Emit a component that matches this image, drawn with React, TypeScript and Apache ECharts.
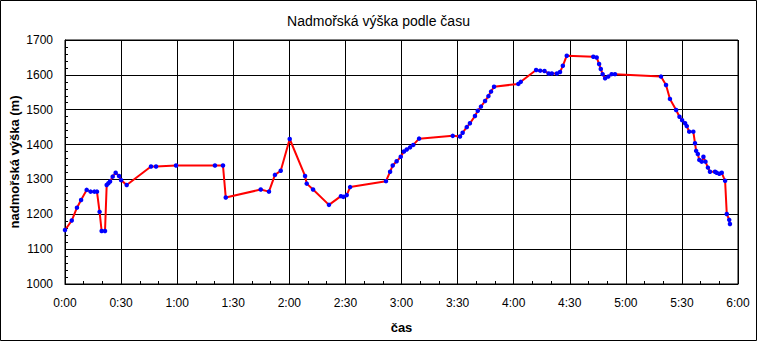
import React, { useEffect, useRef } from "react";
import * as echarts from "echarts";

// time in minutes since start
const times: number[] = [
  0, 3.6, 6.4, 8.6, 11.6, 13.7, 15.7, 17.1, 18.5, 19.6, 21.4, 22.3, 23.2, 24.1, 25.5, 27.1, 28.9, 30, 33,
  46, 48.7, 59.4, 80.2, 84.5, 86, 104.7, 109.1, 112.3, 115.4, 120.2, 128.4, 129.3, 132.7, 141.2,
  147.6, 148.9, 150.7, 152.5, 171.7, 173.9, 175.3, 177.4, 179.6, 181.3, 182.8, 184.6, 186.3, 189.4,
  207.4, 211.3, 212.7, 214.9, 216.6, 219.3, 220.8, 222.5, 224.7, 226.5, 227.9, 229.5, 242.5, 243.8,
  252, 254.2, 256.5, 258.7, 260.4, 263.1, 264.8, 266.3, 268.4, 282.6, 284.4, 285.7, 286.6, 287.6,
  288.9, 290.6, 292.4, 294.2, 318.8, 321.5, 323.6, 326.9, 328.7, 330.1, 331.7, 332.6, 333.9, 336.1,
  337, 337.6, 338.5, 339.3, 340.6, 341.5, 342.6, 343.9, 345, 347.7, 348.6, 350, 351.3, 353.1, 354,
  355.3, 355.7,
];

// altitude in metres
const altitudes: number[] = [
  1155, 1182, 1219, 1241, 1270, 1265, 1265, 1265, 1207, 1152, 1152, 1284, 1289, 1294, 1308, 1319, 1310, 1298, 1284,
  1337, 1337, 1340, 1340, 1340, 1248, 1271, 1265, 1313, 1325, 1416, 1310, 1288, 1271, 1227,
  1252, 1250, 1255, 1278, 1295, 1322, 1340, 1352, 1365, 1380, 1386, 1392, 1399, 1417,
  1425, 1423, 1434, 1450, 1461, 1482, 1497, 1509, 1525, 1539, 1552, 1566, 1574, 1580,
  1614, 1612, 1611, 1604, 1604, 1604, 1608, 1626, 1655, 1652, 1650, 1631, 1617, 1602,
  1590, 1595, 1602, 1602, 1595, 1571, 1531, 1499, 1480, 1470, 1461, 1453, 1437, 1437,
  1404, 1382, 1373, 1356, 1351, 1365, 1351, 1334, 1322, 1322, 1319, 1316, 1319, 1296, 1201,
  1184, 1172,
];

const titleText = "Nadmořská výška podle času";
const xAxisName = "čas";
const yAxisName = "nadmořská výška (m)";

const FONT = "Liberation Sans, Arial, sans-serif";

export default function App() {
  const ref = useRef<HTMLDivElement>(null);

  useEffect(() => {
    if (!ref.current) return;
    const chart = echarts.init(ref.current, undefined, { renderer: "svg" });
    const data = times.map((t, i) => [t, altitudes[i]]);
    const fmt = (v: number) => {
      const h = Math.floor(v / 60);
      const m = Math.round(v % 60);
      return `${h}:${String(m).padStart(2, "0")}`;
    };
    chart.setOption({
      animation: false,
      backgroundColor: "#ffffff",
      title: {
        text: titleText,
        left: "center",
        top: 9,
        textStyle: { fontFamily: FONT, fontSize: 14, fontWeight: "normal", color: "#000" },
      },
      graphic: [
        {
          type: "rect",
          shape: { x: 0.5, y: 0.5, width: 756, height: 340 },
          style: { fill: "none", stroke: "#000", lineWidth: 1 },
          silent: true,
        },
      ],
      grid: {
        left: 65,
        right: 19,
        top: 40,
        bottom: 57,
        containLabel: false,
        outerBoundsMode: "none",
        show: true,
        borderColor: "#000",
        borderWidth: 1,
      },
      xAxis: {
        type: "value",
        min: 0,
        max: 360,
        interval: 30,
        name: xAxisName,
        nameLocation: "middle",
        nameGap: 37,
        nameMoveOverlap: false,
        nameTextStyle: { fontFamily: FONT, fontSize: 13, fontWeight: "bold", color: "#000" },
        axisLine: { show: true, lineStyle: { color: "#000", width: 1 } },
        axisTick: { show: true, inside: true, length: 0 },
        minorTick: { show: true, splitNumber: 3, length: 3, lineStyle: { color: "#000", width: 1 } },
        splitLine: { show: true, lineStyle: { color: "#000", width: 1 } },
        axisLabel: { formatter: fmt, margin: 13, fontFamily: FONT, fontSize: 12, color: "#000" },
      },
      yAxis: {
        type: "value",
        min: 1000,
        max: 1700,
        interval: 100,
        name: yAxisName,
        nameLocation: "middle",
        nameGap: 44,
        nameMoveOverlap: false,
        nameTextStyle: { fontFamily: FONT, fontSize: 13, fontWeight: "bold", color: "#000" },
        axisLine: { show: true, lineStyle: { color: "#000", width: 1 } },
        axisTick: { show: true, inside: true, length: 0 },
        minorTick: { show: true, splitNumber: 5, length: 3, lineStyle: { color: "#000", width: 1 } },
        splitLine: { show: true, lineStyle: { color: "#000", width: 1 } },
        axisLabel: {
          formatter: (v: number) => String(v),
          margin: 12,
          fontFamily: FONT,
          fontSize: 12,
          color: "#000",
        },
      },
      series: [
        {
          type: "line",
          data,
          symbol: "circle",
          symbolSize: 4.5,
          showSymbol: true,
          lineStyle: { color: "#ff0000", width: 2 },
          itemStyle: { color: "#0000ff" },
          z: 3,
        },
      ],
    });
    return () => chart.dispose();
  }, []);

  return (
    <div
      ref={ref}
      style={{ position: "fixed", left: 0, top: 0, width: 757, height: 341 }}
    />
  );
}
